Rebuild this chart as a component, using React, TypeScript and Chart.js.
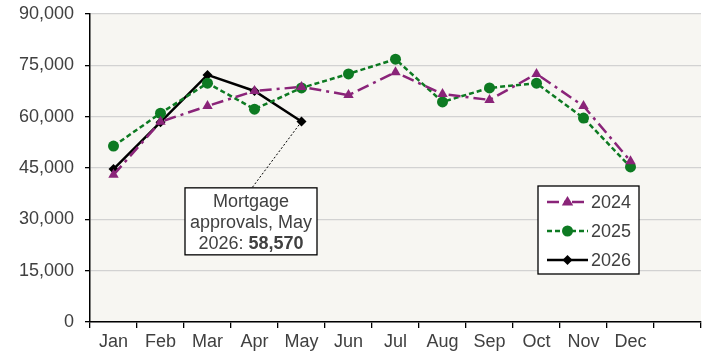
import React, { useEffect, useRef } from 'react';
import { Chart, registerables } from 'chart.js';
Chart.register(...registerables);

const months = ['Jan', 'Feb', 'Mar', 'Apr', 'May', 'Jun', 'Jul', 'Aug', 'Sep', 'Oct', 'Nov', 'Dec', ''];
const approvals2024 = [43000, 58500, 63100, 67500, 68700, 66300, 73000, 66600, 64900, 72500, 63100, 47000, null];
const approvals2025 = [51400, 61000, 69800, 62200, 68400, 72500, 76800, 64300, 68400, 69800, 59600, 45300, null];
const approvals2026 = [44700, 58400, 72200, 67500, 58570, null, null, null, null, null, null, null, null];
const seriesLabels = ['2024', '2025', '2026'];
const yMin = 0;
const yMax = 90000;
const yStep = 15000;
const noteLines = ['Mortgage', 'approvals, May', '2026: '];
const noteIndex = 4;

const FONT = '"Liberation Sans", Arial, sans-serif';
const TEXT = '#404040';
const PURPLE = '#8a2479';
const GREEN = '#0d7a22';

const fmt = (v: number) => v.toLocaleString('en-US');

const bgPlugin = {
  id: 'plotBg',
  beforeDraw(chart: any) {
    const { ctx, chartArea: a } = chart;
    ctx.save();
    ctx.fillStyle = '#f7f6f2';
    ctx.fillRect(a.left, a.top, a.right - a.left, a.bottom - a.top);
    ctx.restore();
  },
};

function drawMarker(ctx: CanvasRenderingContext2D, style: string, x: number, y: number, r: number, color: string) {
  ctx.save();
  ctx.fillStyle = color;
  ctx.beginPath();
  if (style === 'triangle') {
    ctx.moveTo(x, y - r);
    ctx.lineTo(x + r * 0.95, y + r * 0.6);
    ctx.lineTo(x - r * 0.95, y + r * 0.6);
    ctx.closePath();
  } else if (style === 'rectRot') {
    ctx.moveTo(x, y - r);
    ctx.lineTo(x + r, y);
    ctx.lineTo(x, y + r);
    ctx.lineTo(x - r, y);
    ctx.closePath();
  } else {
    ctx.arc(x, y, r, 0, Math.PI * 2);
  }
  ctx.fill();
  ctx.restore();
}

const notePlugin = {
  id: 'note',
  afterDatasetsDraw(chart: any) {
    const { ctx } = chart;
    const pt = chart.getDatasetMeta(2).data[noteIndex];
    const xs = chart.scales.x;
    const ys = chart.scales.y;
    const cx = (xs.getPixelForValue(2) + xs.getPixelForValue(3)) / 2 + 20;
    const top = ys.getPixelForValue(39200);
    const w = 132;
    const h = 67;
    ctx.save();
    ctx.strokeStyle = '#000';
    ctx.lineWidth = 1;
    ctx.setLineDash([2, 2]);
    ctx.beginPath();
    ctx.moveTo(pt.x, pt.y);
    ctx.lineTo(cx + 1, top);
    ctx.stroke();
    ctx.setLineDash([]);
    ctx.fillStyle = '#fff';
    ctx.fillRect(cx - w / 2, top, w, h);
    ctx.lineWidth = 1.3;
    ctx.strokeRect(cx - w / 2, top, w, h);
    ctx.fillStyle = TEXT;
    ctx.textBaseline = 'alphabetic';
    ctx.textAlign = 'center';
    ctx.font = `18px ${FONT}`;
    ctx.fillText(noteLines[0], cx, top + 19);
    ctx.fillText(noteLines[1], cx, top + 40);
    const valueText = fmt(approvals2026[noteIndex] as number);
    const normalW = ctx.measureText(noteLines[2]).width;
    ctx.font = `bold 18px ${FONT}`;
    const boldW = ctx.measureText(valueText).width;
    const start = cx - (normalW + boldW) / 2;
    ctx.textAlign = 'left';
    ctx.font = `18px ${FONT}`;
    ctx.fillText(noteLines[2], start, top + 61);
    ctx.font = `bold 18px ${FONT}`;
    ctx.fillText(valueText, start + normalW, top + 61);
    ctx.restore();
  },
};

const legendPlugin = {
  id: 'boxLegend',
  afterDraw(chart: any) {
    const { ctx, chartArea: a } = chart;
    const left = a.right - 163;
    const top = a.top + 172;
    const w = 101;
    const h = 88;
    ctx.save();
    ctx.fillStyle = '#fff';
    ctx.fillRect(left, top, w, h);
    ctx.strokeStyle = '#000';
    ctx.lineWidth = 1.3;
    ctx.strokeRect(left, top, w, h);
    chart.data.datasets.forEach((ds: any, i: number) => {
      const y = top + 16 + i * 29;
      const x0 = left + 9;
      const x1 = left + 50;
      ctx.strokeStyle = ds.borderColor;
      ctx.lineWidth = ds.borderWidth;
      ctx.setLineDash(ds.borderDash || []);
      ctx.beginPath();
      ctx.moveTo(x0, y);
      ctx.lineTo(x1, y);
      ctx.stroke();
      ctx.setLineDash([]);
      drawMarker(ctx, ds.pointStyle, (x0 + x1) / 2, y, ds.pointRadius, ds.borderColor);
      ctx.fillStyle = TEXT;
      ctx.font = `18px ${FONT}`;
      ctx.textAlign = 'left';
      ctx.textBaseline = 'middle';
      ctx.fillText(ds.label, left + 53, y + 1);
    });
    ctx.restore();
  },
};

export default function App() {
  const ref = useRef<HTMLCanvasElement>(null);
  useEffect(() => {
    document.body.style.margin = '0';
    document.body.style.overflow = 'hidden';
    const chart = new Chart(ref.current as HTMLCanvasElement, {
      type: 'line',
      data: {
        labels: months,
        datasets: [
          {
            label: seriesLabels[0],
            data: approvals2024,
            borderColor: PURPLE,
            backgroundColor: PURPLE,
            borderWidth: 2.5,
            borderDash: [12, 5, 3, 5],
            pointStyle: 'triangle',
            pointRadius: 6,
            pointBorderWidth: 0,
          },
          {
            label: seriesLabels[1],
            data: approvals2025,
            borderColor: GREEN,
            backgroundColor: GREEN,
            borderWidth: 2.5,
            borderDash: [5, 3],
            pointStyle: 'circle',
            pointRadius: 5.5,
            pointBorderWidth: 0,
          },
          {
            label: seriesLabels[2],
            data: approvals2026,
            borderColor: '#000',
            backgroundColor: '#000',
            borderWidth: 2.5,
            pointStyle: 'rectRot',
            pointRadius: 5,
            pointBorderWidth: 0,
          },
        ],
      } as any,
      options: {
        responsive: false,
        animation: false,
        devicePixelRatio: 1,
        events: [],
        layout: { padding: { top: 14, right: 22, left: 0, bottom: 0 } },
        plugins: { legend: { display: false }, tooltip: { enabled: false } },
        scales: {
          x: {
            offset: true,
            afterFit: (s: any) => { s.height = 36; s.paddingLeft = 0; s.paddingRight = 0; },
            grid: { offset: true, drawOnChartArea: false, drawTicks: true, tickLength: 6, color: '#000', lineWidth: 1.3 },
            border: { display: true, color: '#000', width: 1.5 },
            ticks: { color: TEXT, font: { family: FONT, size: 18 }, padding: 3, autoSkip: false, maxRotation: 0 },
          },
          y: {
            min: yMin,
            max: yMax,
            afterFit: (s: any) => { s.width = 90; s.paddingTop = 0; s.paddingBottom = 0; },
            grid: { color: '#d2d2d2', lineWidth: 1.3, tickColor: '#000', tickLength: 5 },
            border: { display: true, color: '#000', width: 1.5 },
            ticks: { stepSize: yStep, color: TEXT, font: { family: FONT, size: 18 }, padding: 11, callback: (v: any) => fmt(Number(v)) },
          },
        },
      },
      plugins: [bgPlugin, notePlugin, legendPlugin],
    });
    return () => chart.destroy();
  }, []);
  return <canvas ref={ref} width={723} height={358} style={{ display: 'block', width: 723, height: 358 }} />;
}
